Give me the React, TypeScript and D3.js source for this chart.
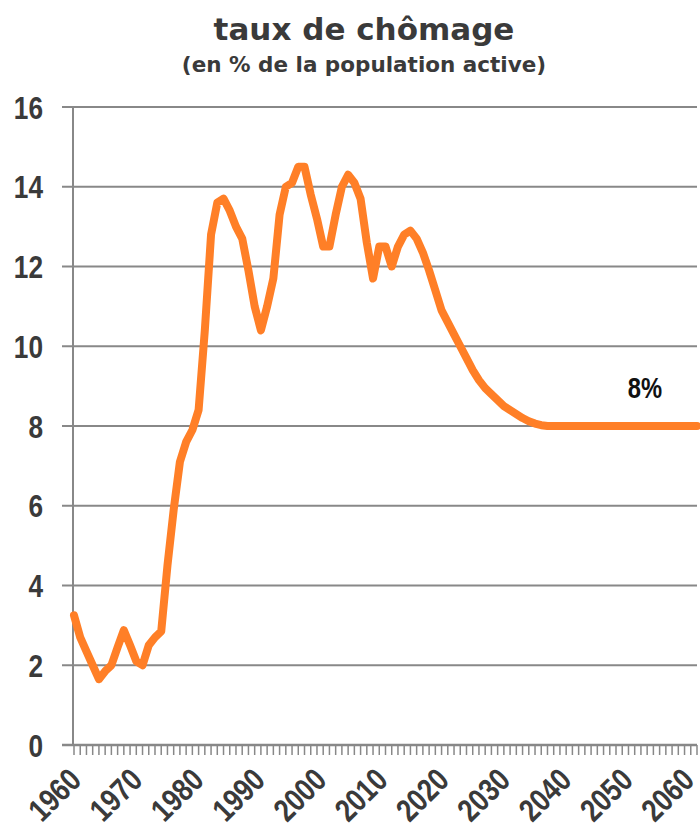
import React from 'react'
import * as d3 from 'd3'

const years = d3.range(1960, 2061)
const rates = [
  3.25, 2.7, 2.35, 2.0, 1.65, 1.85, 2.0, 2.45, 2.88, 2.5,
  2.1, 2.0, 2.5, 2.7, 2.85, 4.5, 5.9, 7.1, 7.6, 7.9,
  8.4, 10.4, 12.8, 13.6, 13.7, 13.4, 13.0, 12.7, 11.9, 11.0,
  10.4, 11.0, 11.7, 13.3, 14.0, 14.1, 14.5, 14.5, 13.8, 13.2,
  12.5, 12.5, 13.3, 14.0, 14.3, 14.1, 13.7, 12.6, 11.7, 12.5,
  12.5, 12.0, 12.5, 12.8, 12.9, 12.7, 12.35, 11.9, 11.4, 10.9,
  10.6, 10.3, 10.0, 9.7, 9.4, 9.15, 8.95, 8.8, 8.65, 8.5,
  8.4, 8.3, 8.2, 8.12, 8.06, 8.02, 8.0, 8.0, 8.0, 8.0,
  8.0, 8.0, 8.0, 8.0, 8.0, 8.0, 8.0, 8.0, 8.0, 8.0,
  8.0, 8.0, 8.0, 8.0, 8.0, 8.0, 8.0, 8.0, 8.0, 8.0,
  8.0,
]
const yTicks = [0, 2, 4, 6, 8, 10, 12, 14, 16]
const xLabels = [1960, 1970, 1980, 1990, 2000, 2010, 2020, 2030, 2040, 2050, 2060]

const title = 'taux de chômage'
const subtitle = '(en % de la population active)'
const endLabel = '8%'

// wide font for the titles, squeezed Liberation for the axis numbers
const titleFont = '"DejaVu Sans", sans-serif'
const axisFont = '"Liberation Sans", Arial, sans-serif'
const squeeze = 'scale(0.82, 1)'
const textColor = '#3a3a3a'
const gridColor = '#888888'
const lineColor = '#ff7f27'

const App = () => {
  const width = 700
  const height = 832
  const x = d3.scaleLinear().domain([1960, 2060]).range([74, 697])
  // rotated labels sit a little tighter than the ticks
  const xLab = d3.scaleLinear().domain([1960, 2060]).range([83, 696])
  const y = d3.scaleLinear().domain([0, 16]).range([745, 107])

  const line = d3
    .line<number>()
    .x((d, i) => x(years[i]))
    .y(d => y(d))

  return (
    <svg
      width={width}
      height={height}
      style={{position: 'absolute', left: 0, top: 0, background: '#fff'}}
    >
      <text
        x={364}
        y={40}
        textAnchor="middle"
        fontFamily={titleFont}
        fontWeight="bold"
        fontSize={31}
        fill={textColor}
      >
        {title}
      </text>
      <text
        x={364}
        y={72}
        textAnchor="middle"
        fontFamily={titleFont}
        fontWeight="bold"
        fontSize={21.5}
        fill={textColor}
      >
        {subtitle}
      </text>

      {/* grid + y labels */}
      {yTicks.map(t => (
        <g key={t}>
          <line
            x1={62}
            x2={697}
            y1={y(t)}
            y2={y(t)}
            stroke={gridColor}
            strokeWidth={t === 0 ? 2.5 : 2}
          />
          <text
            transform={`translate(43, ${y(t)}) ${squeeze}`}
            dy="0.36em"
            textAnchor="end"
            fontFamily={axisFont}
            fontWeight="bold"
            fontSize={32}
            fill={textColor}
          >
            {t}
          </text>
        </g>
      ))}

      {/* y axis */}
      <line x1={73} x2={73} y1={107} y2={745} stroke={gridColor} strokeWidth={2} />

      {/* yearly ticks */}
      {years.map(yr => (
        <line
          key={yr}
          x1={x(yr)}
          x2={x(yr)}
          y1={745}
          y2={755}
          stroke={gridColor}
          strokeWidth={1.5}
        />
      ))}

      {xLabels.map(yr => (
        <text
          key={yr}
          transform={`translate(${xLab(yr)}, 782) rotate(-45) ${squeeze}`}
          textAnchor="end"
          fontFamily={axisFont}
          fontWeight="bold"
          fontSize={32}
          fill={textColor}
        >
          {yr}
        </text>
      ))}

      <path
        d={line(rates) || ''}
        fill="none"
        stroke={lineColor}
        strokeWidth={8}
        strokeLinejoin="round"
        strokeLinecap="round"
      />

      <text
        transform={`translate(645, 398) ${squeeze}`}
        textAnchor="middle"
        fontFamily={axisFont}
        fontWeight="bold"
        fontSize={29}
        fill="#111"
      >
        {endLabel}
      </text>
    </svg>
  )
}

export default App
